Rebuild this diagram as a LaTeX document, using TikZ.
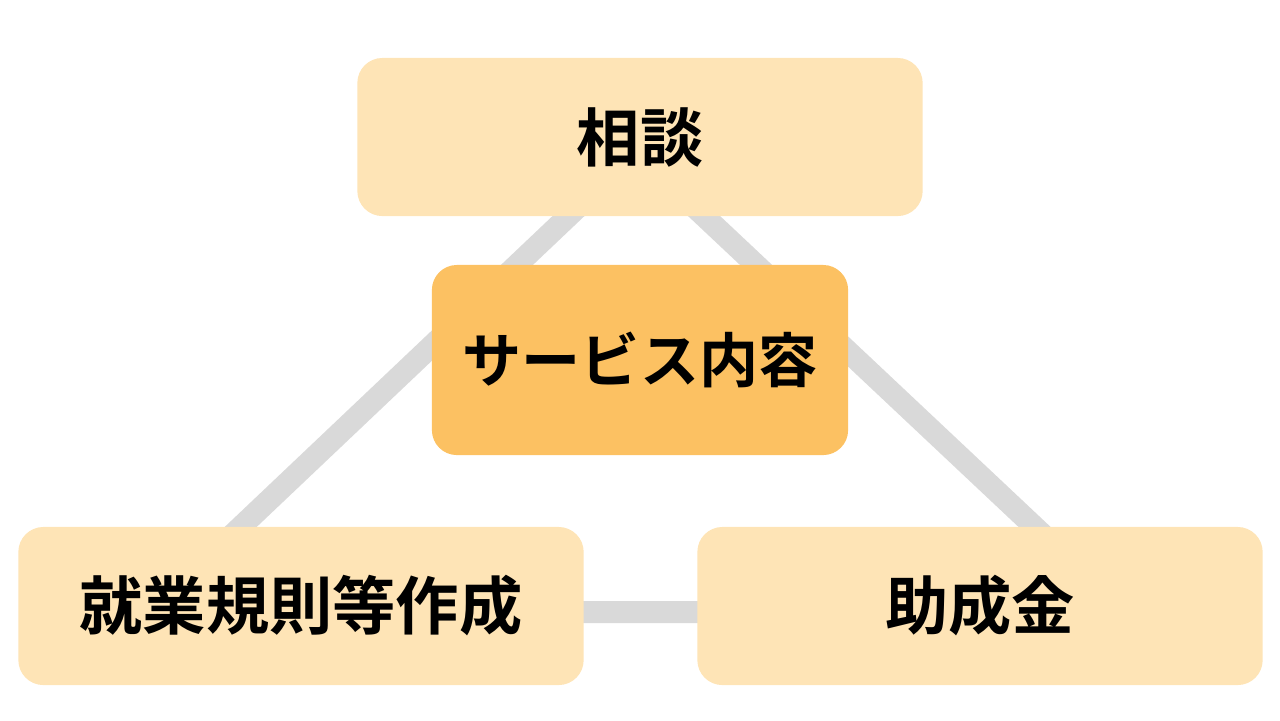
\documentclass[tikz,border=0pt]{standalone}
\usepackage{fontspec}
\newfontfamily\jpfont{Noto Sans CJK JP}[BoldFont={* Bold}]
\definecolor{BoxClr}{HTML}{FEE4B6}
\definecolor{CoreClr}{HTML}{FCC162}
\definecolor{LinkClr}{HTML}{D9D9D9}

\begin{document}
\begin{tikzpicture}[x=0.01cm,y=-0.01cm,
  item/.style={fill=BoxClr,rounded corners=0.25cm,minimum width=5.65cm,minimum height=1.58cm,
    font=\jpfont\bfseries\fontsize{18}{21}\selectfont,inner sep=0pt},
  core/.style={item,fill=CoreClr,minimum width=4.16cm,minimum height=1.9cm,
    font=\jpfont\bfseries\fontsize{16.8}{20}\selectfont},
  link/.style={line width=0.22cm,color=LinkClr}]
\useasboundingbox (0,0) rectangle (1280,720);

\coordinate (P1) at (636,152);
\coordinate (P2) at (151,612);
\coordinate (P3) at (1125,612);
\draw[link] (P1) -- (P2) -- (P3) -- cycle;

\node[item] (sodan) at (640,137) {相談};
\node[core] (service) at (640,360) {サービス内容};
\node[item] (kisoku) at (301,606) {就業規則等作成};
\node[item] (josei) at (980,606) {助成金};

\end{tikzpicture}
\end{document}
